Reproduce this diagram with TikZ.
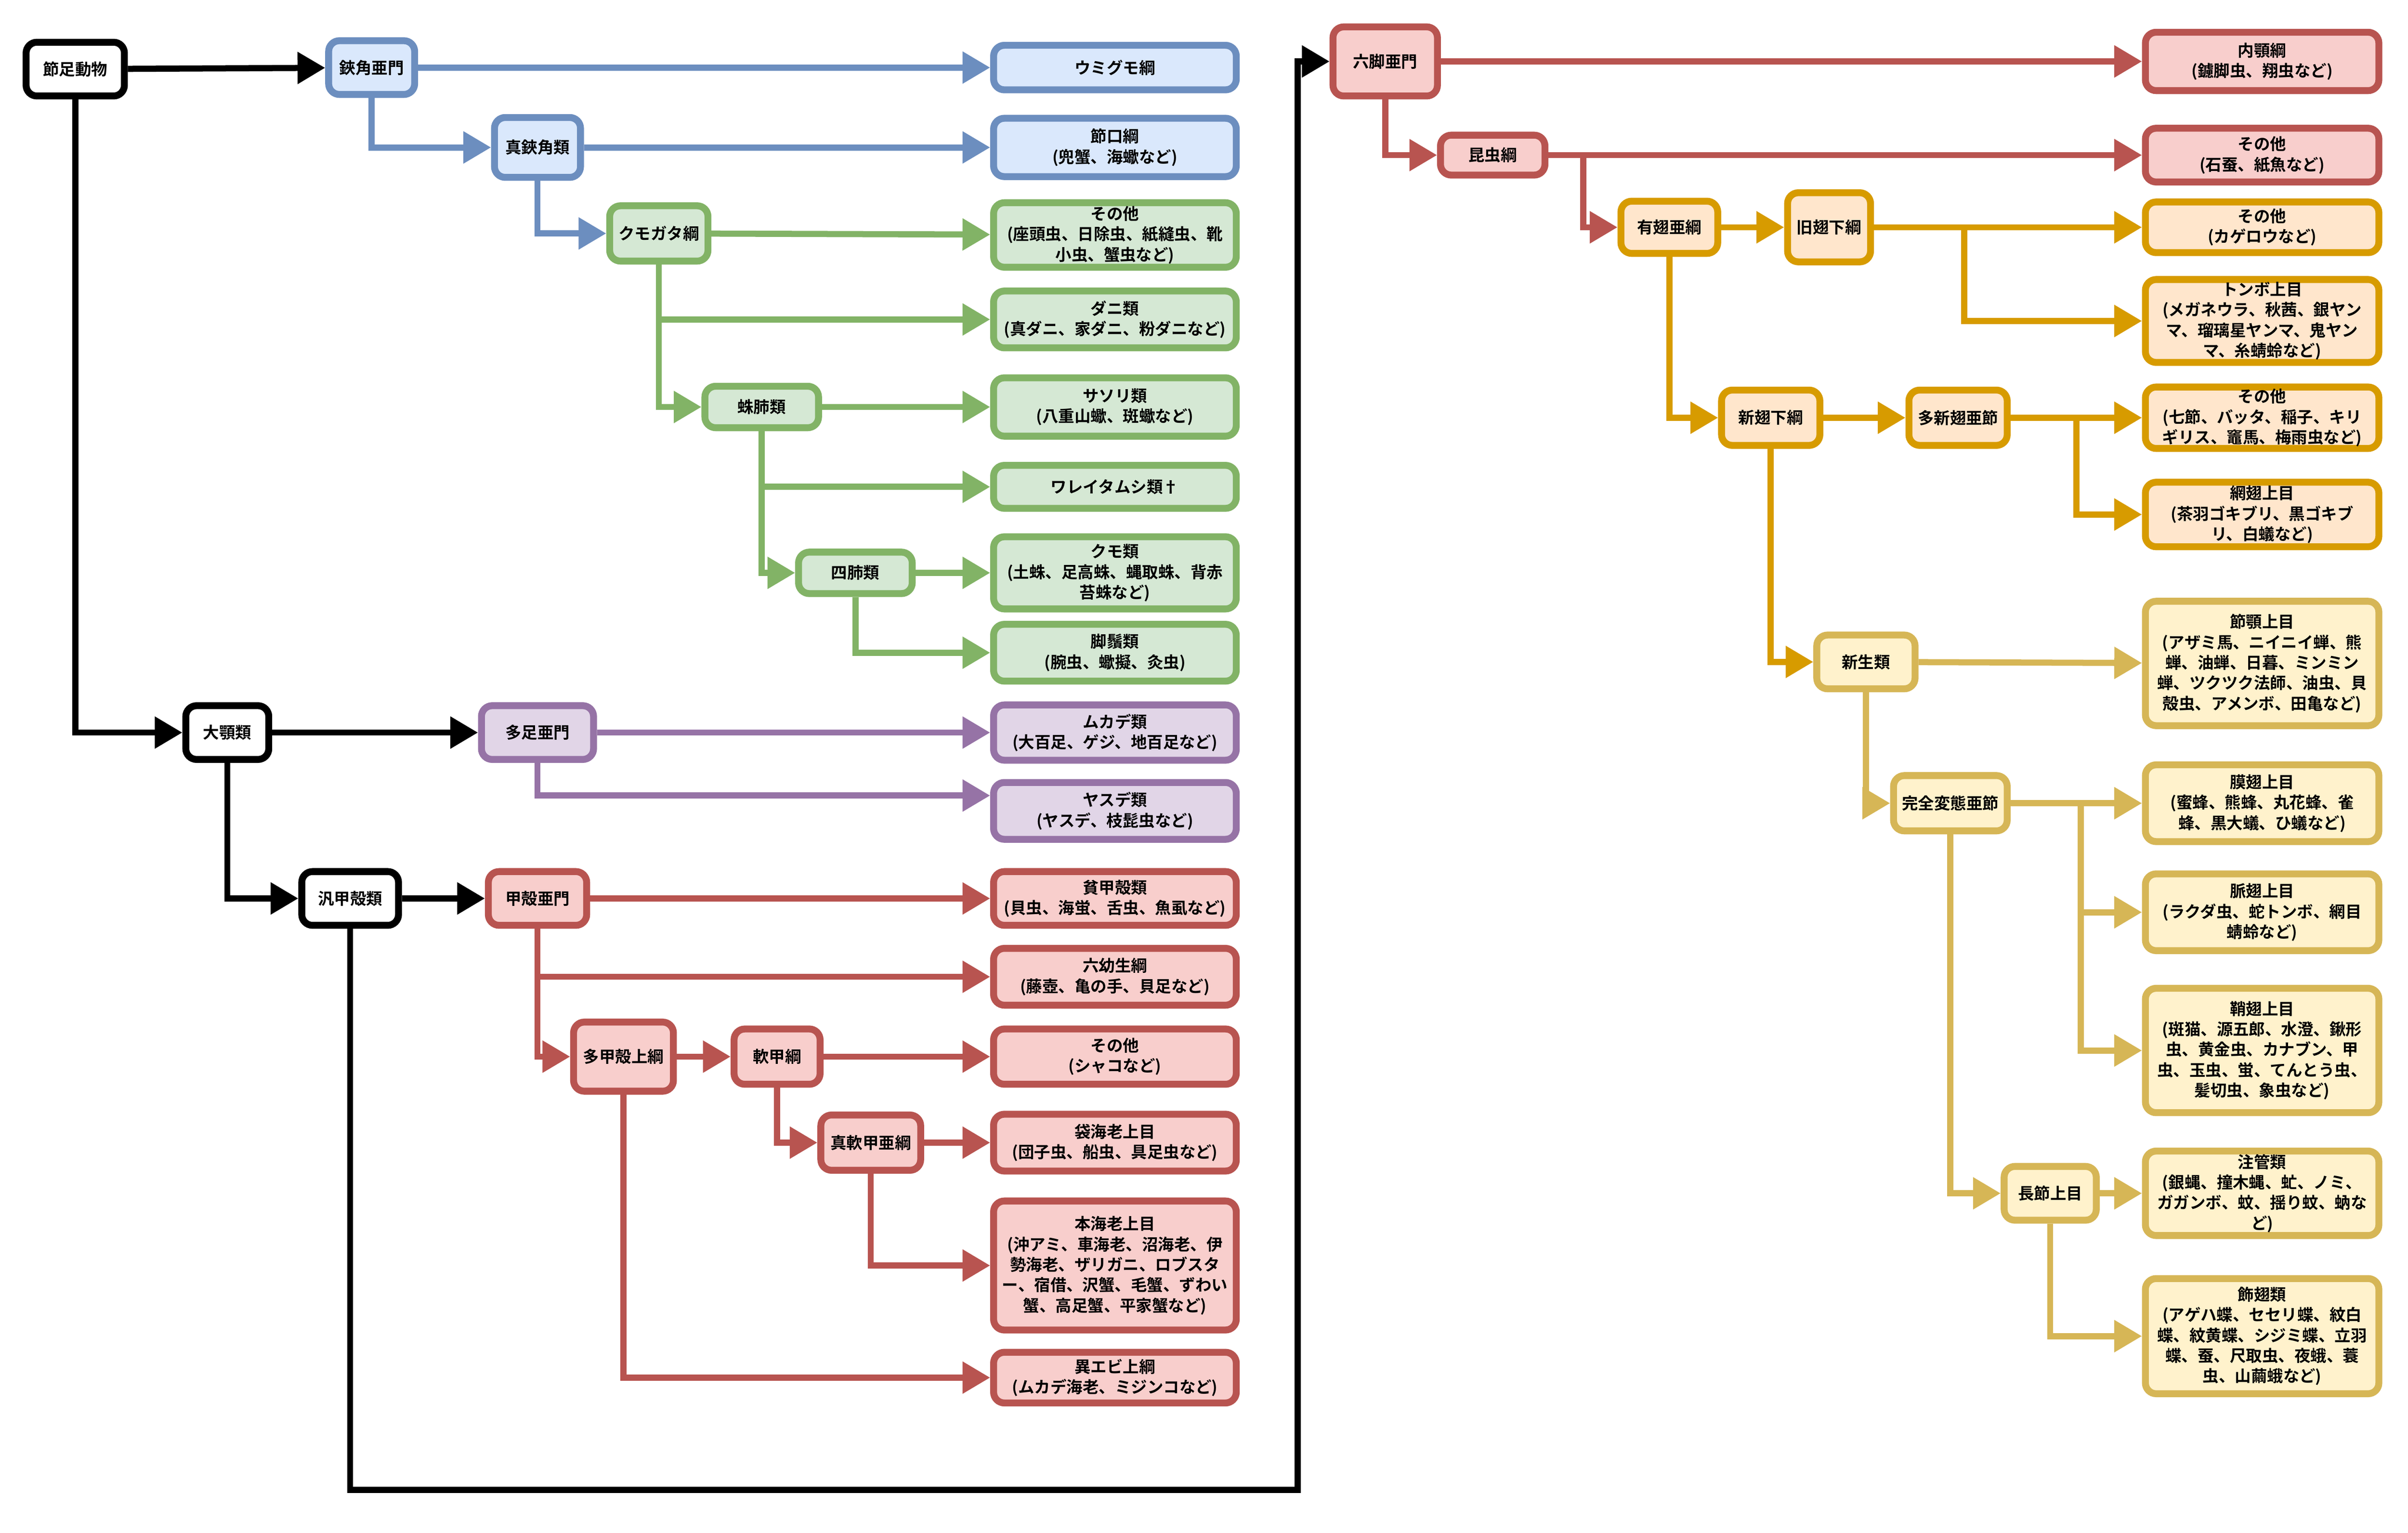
\documentclass[tikz,border=0pt]{standalone}
\usepackage{fontspec}
\setmainfont{Noto Sans CJK JP}[BoldFont={* Bold}]
\usetikzlibrary{arrows.meta}
\definecolor{bS}{HTML}{6C8EBF}\definecolor{bF}{HTML}{DAE8FC}
\definecolor{gS}{HTML}{82B366}\definecolor{gF}{HTML}{D5E8D4}
\definecolor{pS}{HTML}{9673A6}\definecolor{pF}{HTML}{E1D5E7}
\definecolor{rS}{HTML}{B85450}\definecolor{rF}{HTML}{F8CECC}
\definecolor{oS}{HTML}{D79B00}\definecolor{oF}{HTML}{FFE6CC}
\definecolor{yS}{HTML}{D6B656}\definecolor{yF}{HTML}{FFF2CC}
\tikzset{
 box/.style={draw, rounded corners=7pt, line width=4.5pt, inner sep=1pt, align=center,
   font=\fontsize{10.5}{13.3}\selectfont\bfseries},
 K/.style={box, draw=black, fill=white},
 B/.style={box, draw=bS, fill=bF}, G/.style={box, draw=gS, fill=gF},
 P/.style={box, draw=pS, fill=pF}, R/.style={box, draw=rS, fill=rF},
 O/.style={box, draw=oS, fill=oF}, Y/.style={box, draw=yS, fill=yF},
 leafL/.style={minimum width=158pt, text width=156pt},
 leafR/.style={minimum width=148pt, text width=150pt},
 ar/.style={line width=4pt, -{Triangle[length=18pt,width=20pt]}},
 kA/.style={ar, black}, bA/.style={ar, bS}, gA/.style={ar, gS}, pA/.style={ar, pS},
 rA/.style={ar, rS}, oA/.style={ar, oS}, yA/.style={ar, yS},
}
\begin{document}
\begin{tikzpicture}[x=1pt,y=-1pt]
\useasboundingbox (0,0) rectangle (1568,998);
% black
\node[K,minimum width=64pt,minimum height=35pt] (setsu) at (49,45) {節足動物};
\node[K,minimum width=54pt,minimum height=35pt] (dai) at (148,477) {大顎類};
\node[K,minimum width=63pt,minimum height=35pt] (han) at (228,585) {汎甲殻類};
% blue
\node[B,minimum width=56pt,minimum height=35pt] (kyo) at (242,44) {鋏角亜門};
\node[B,minimum width=56pt,minimum height=39pt] (shinkyo) at (350,96) {真鋏角類};
\node[B,leafL,minimum height=29pt] (umi) at (726,44) {ウミグモ綱};
\node[B,leafL,minimum height=38pt] (setsuko) at (726,96) {節口綱\\(兜蟹、海蠍など)};
% green
\node[G,minimum width=64pt,minimum height=36pt] (kumo) at (429,152) {クモガタ綱};
\node[G,leafL,minimum height=42pt] (g1) at (726,153) {その他\\(座頭虫、日除虫、紙縫虫、靴\\小虫、蟹虫など)};
\node[G,leafL,minimum height=37pt] (dani) at (726,208) {ダニ類\\(真ダニ、家ダニ、粉ダニなど)};
\node[G,minimum width=74pt,minimum height=27pt] (shuhai) at (496,265) {蛛肺類};
\node[G,leafL,minimum height=38pt] (sasori) at (726,265) {サソリ類\\(八重山蠍、斑蠍など)};
\node[G,leafL,minimum height=28pt] (wa) at (726,317) {ワレイタムシ類†};
\node[G,minimum width=74pt,minimum height=27pt] (shihai) at (557,373) {四肺類};
\node[G,leafL,minimum height=47pt] (kumorui) at (726,373) {クモ類\\(土蛛、足高蛛、蝿取蛛、背赤\\苔蛛など)};
\node[G,leafL,minimum height=37pt] (kyaku) at (726,425) {脚鬚類\\(腕虫、蠍擬、灸虫)};
% purple
\node[P,minimum width=73pt,minimum height=35pt] (taso) at (350,477) {多足亜門};
\node[P,leafL,minimum height=36pt] (mukade) at (726,477) {ムカデ類\\(大百足、ゲジ、地百足など)};
\node[P,leafL,minimum height=37pt] (yasude) at (726,528) {ヤスデ類\\(ヤスデ、枝髭虫など)};
% red left
\node[R,minimum width=64pt,minimum height=35pt] (kou) at (350,585) {甲殻亜門};
\node[R,leafL,minimum height=35pt] (hin) at (726,585) {貧甲殻類\\(貝虫、海蛍、舌虫、魚虱など)};
\node[R,leafL,minimum height=37pt] (roku) at (726,636) {六幼生綱\\(藤壺、亀の手、貝足など)};
\node[R,minimum width=65pt,minimum height=45pt] (takou) at (406,688) {多甲殻上綱};
\node[R,minimum width=56pt,minimum height=36pt] (nan) at (506,688) {軟甲綱};
\node[R,leafL,minimum height=36pt] (r1) at (726,688) {その他\\(シャコなど)};
\node[R,minimum width=65pt,minimum height=36pt] (shinnan) at (567,744) {真軟甲亜綱};
\node[R,leafL,minimum height=37pt] (fukuro) at (726,744) {袋海老上目\\(団子虫、船虫、具足虫など)};
\node[R,leafL,minimum height=84pt] (hon) at (726,824) {本海老上目\\(沖アミ、車海老、沼海老、伊\\勢海老、ザリガニ、ロブスタ\\ー、宿借、沢蟹、毛蟹、ずわい\\蟹、高足蟹、平家蟹など)};
\node[R,leafL,minimum height=33pt] (iebi) at (726,897) {異エビ上綱\\(ムカデ海老、ミジンコなど)};
% right red
\node[R,minimum width=68pt,minimum height=45pt] (rokkyaku) at (902,40) {六脚亜門};
\node[R,leafR,minimum height=38pt] (naigaku) at (1473,40) {内顎綱\\(鑢脚虫、翔虫など)};
\node[R,minimum width=68pt,minimum height=26pt] (konchu) at (972,101) {昆虫綱};
\node[R,leafR,minimum height=35pt] (r2) at (1473,101) {その他\\(石蚕、紙魚など)};
% orange
\node[O,minimum width=63pt,minimum height=34pt] (yushi) at (1087,148) {有翅亜綱};
\node[O,minimum width=54pt,minimum height=45pt] (kyushi) at (1191,148) {旧翅下綱};
\node[O,leafR,minimum height=33pt] (o1) at (1473,148) {その他\\(カゲロウなど)};
\node[O,leafR,minimum height=54pt] (tonbo) at (1473,209) {トンボ上目\\(メガネウラ、秋茜、銀ヤン\\マ、瑠璃星ヤンマ、鬼ヤン\\マ、糸蜻蛉など)};
\node[O,minimum width=64pt,minimum height=36pt] (shinshi) at (1153,272) {新翅下綱};
\node[O,minimum width=64pt,minimum height=36pt] (tashin) at (1275,272) {多新翅亜節};
\node[O,leafR,minimum height=40pt] (o2) at (1473,272) {その他\\(七節、バッタ、稲子、キリ\\ギリス、竈馬、梅雨虫など)};
\node[O,leafR,minimum height=42pt] (mou) at (1473,335) {網翅上目\\(茶羽ゴキブリ、黒ゴキブ\\リ、白蟻など)};
% yellow
\node[Y,minimum width=64pt,minimum height=35pt] (shinsei) at (1215,431) {新生類};
\node[Y,leafR,minimum height=81pt] (setsugaku) at (1473,432) {節顎上目\\(アザミ馬、ニイニイ蝉、熊\\蝉、油蝉、日暮、ミンミン\\蝉、ツクツク法師、油虫、貝\\殻虫、アメンボ、田亀など)};
\node[Y,minimum width=74pt,minimum height=36pt] (kanzen) at (1270,523) {完全変態亜節};
\node[Y,leafR,minimum height=50pt] (maku) at (1473,523) {膜翅上目\\(蜜蜂、熊蜂、丸花蜂、雀\\蜂、黒大蟻、ひ蟻など)};
\node[Y,leafR,minimum height=50pt] (myaku) at (1473,594) {脈翅上目\\(ラクダ虫、蛇トンボ、網目\\蜻蛉など)};
\node[Y,leafR,minimum height=81pt] (shou) at (1473,684) {鞘翅上目\\(斑猫、源五郎、水澄、鍬形\\虫、黄金虫、カナブン、甲\\虫、玉虫、蛍、てんとう虫、\\髪切虫、象虫など)};
\node[Y,minimum width=60pt,minimum height=35pt] (chousetsu) at (1335,777) {長節上目};
\node[Y,leafR,minimum height=55pt] (chukan) at (1473,777) {注管類\\(銀蝿、撞木蝿、虻、ノミ、\\ガガンボ、蚊、揺り蚊、蚋な\\ど)};
\node[Y,leafR,minimum height=75pt] (shokushi) at (1473,870) {飾翅類\\(アゲハ蝶、セセリ蝶、紋白\\蝶、紋黄蝶、シジミ蝶、立羽\\蝶、蚕、尺取虫、夜蛾、蓑\\虫、山繭蛾など)};
% coordinates
\coordinate (c1) at (228,970); \coordinate (c2) at (845,970);
\coordinate (k1) at (1031,101); \coordinate (b1) at (1279,148);
\coordinate (b2) at (1352,272); \coordinate (b3) at (1355,523);
% edges black
\draw[kA] (setsu) -- (kyo);
\draw[kA] (setsu.south) |- (dai.west);
\draw[kA] (dai) -- (taso);
\draw[kA] (dai.south) |- (han.west);
\draw[kA] (han) -- (kou);
\draw[kA,rounded corners=0] (han.south) -- (c1) -- (c2) |- (rokkyaku.west);
% blue
\draw[bA] (kyo) -- (umi);
\draw[bA] (kyo.south) |- (shinkyo.west);
\draw[bA] (shinkyo) -- (setsuko);
\draw[bA] (shinkyo.south) |- (kumo.west);
% green
\draw[gA] (kumo) -- (g1);
\draw[gA] (kumo.south) |- (dani.west);
\draw[gA] (kumo.south) |- (shuhai.west);
\draw[gA] (shuhai) -- (sasori);
\draw[gA] (shuhai.south) |- (wa.west);
\draw[gA] (shuhai.south) |- (shihai.west);
\draw[gA] (shihai) -- (kumorui);
\draw[gA] (shihai.south) |- (kyaku.west);
% purple
\draw[pA] (taso) -- (mukade);
\draw[pA] (taso.south) |- ([yshift=10pt]yasude.west);
% red
\draw[rA] (kou) -- (hin);
\draw[rA] (kou.south) |- (roku.west);
\draw[rA] (kou.south) |- (takou.west);
\draw[rA] (takou) -- (nan);
\draw[rA] (takou.south) |- (iebi.west);
\draw[rA] (nan) -- (r1);
\draw[rA] (nan.south) |- (shinnan.west);
\draw[rA] (shinnan) -- (fukuro);
\draw[rA] (shinnan.south) |- (hon.west);
\draw[rA] (rokkyaku) -- (naigaku);
\draw[rA] (rokkyaku.south) |- (konchu.west);
\draw[rA] (konchu) -- (r2);
\draw[rA] (k1) |- (yushi.west);
% orange
\draw[oA] (yushi) -- (kyushi);
\draw[oA] (yushi.south) |- (shinshi.west);
\draw[oA] (kyushi) -- (o1);
\draw[oA] (b1) |- (tonbo.west);
\draw[oA] (shinshi) -- (tashin);
\draw[oA] (shinshi.south) |- (shinsei.west);
\draw[oA] (tashin) -- (o2);
\draw[oA] (b2) |- (mou.west);
% yellow
\draw[yA] (shinsei) -- (setsugaku);
\draw[yA] (shinsei.south) |- (kanzen.west);
\draw[yA] (kanzen) -- (maku);
\draw[yA] (b3) |- (myaku.west);
\draw[yA] (b3) |- (shou.west);
\draw[yA] (kanzen.south) |- (chousetsu.west);
\draw[yA] (chousetsu) -- (chukan);
\draw[yA] (chousetsu.south) |- (shokushi.west);
\end{tikzpicture}
\end{document}
